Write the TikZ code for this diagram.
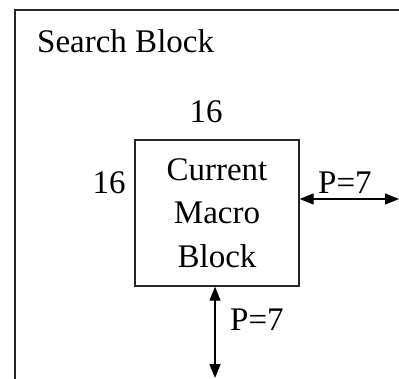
\documentclass[tikz,border=0pt]{standalone}
\usepackage{fontspec}
\setmainfont{Liberation Serif}
\usetikzlibrary{arrows.meta}
\begin{document}
\begin{tikzpicture}[x=1pt,y=-1pt,
  lbl/.style={font=\fontsize{33}{43.5}\selectfont, inner sep=0pt},
  frame/.style={draw=black!85, line width=1.6pt},
  boxst/.style={draw=black!85, line width=1.3pt, minimum width=164pt, minimum height=146pt, inner sep=0pt, align=center, font=\fontsize{33}{43.5}\selectfont},
  dbl/.style={line width=1.2pt, {Triangle[length=14pt,width=11pt]}-{Triangle[length=14pt,width=11pt]}}]
\useasboundingbox (0,0) rectangle (399,378);
\clip (0,0) rectangle (399,378);
\draw[frame] (15,380) -- (15,10) -- (402,10);
\node[lbl, anchor=base west] (title) at (37,52) {Search Block};
\node[boxst] (mb) at (217,213) {Current\\Macro\\Block};
\node[lbl, anchor=base] (top16) at (206,122) {16};
\node[lbl, anchor=base] (left16) at (109,193) {16};
\coordinate (rend) at (399,199);
\coordinate (bend) at (215,378);
\draw[dbl] (mb.east |- rend) -- (rend);
\draw[dbl] (mb.south -| bend) -- (bend);
\node[lbl, anchor=base west] (pr) at (318,193) {P=7};
\node[lbl, anchor=base west] (pb) at (230,330) {P=7};
\end{tikzpicture}
\end{document}
